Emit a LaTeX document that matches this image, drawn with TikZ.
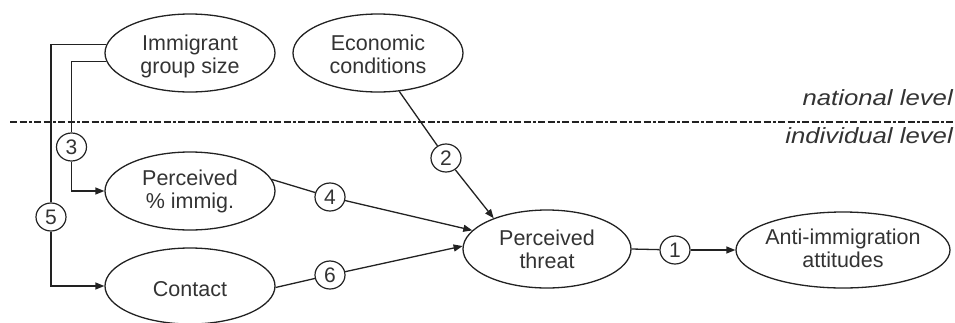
\documentclass[tikz,border=0pt]{standalone}
\usepackage{graphicx}
\usepackage{fontspec}
\setmainfont{Liberation Sans}
\usetikzlibrary{shapes.geometric,arrows.meta}
\definecolor{ink}{HTML}{333333}
\definecolor{edgec}{HTML}{222222}
\begin{document}
\begin{tikzpicture}[x=1pt,y=-1pt,
  oval/.style={ellipse,draw=edgec,line width=1.3pt,inner sep=0pt},
  lbl/.style={text=ink,align=center,font=\fontsize{21.5}{23}\selectfont,inner sep=0pt},
  num/.style={ellipse,draw=edgec,line width=1.2pt,minimum width=30pt,minimum height=28pt,inner sep=0pt,text=ink,font=\fontsize{21}{23}\selectfont},
  conn/.style={draw=edgec,line width=1.3pt},
  arr/.style={conn,-{Triangle[length=9pt,width=7pt]}},
  lvl/.style={anchor=base east,text=ink,inner sep=0pt,font=\fontsize{22}{24}\selectfont\itshape}]
\useasboundingbox (0,0) rectangle (955,322);

% level separator
\draw[edgec,line width=2.8pt,dash pattern=on 7pt off 2.5pt on 7pt off 2.5pt on 2.5pt off 2.5pt] (10,122) -- (955,122);
\node[lvl] (natl) at (953,105) {\scalebox{1.17}[1]{national level}};
\node[lvl] (indl) at (953,143) {\scalebox{1.17}[1]{individual level}};

% ellipses
\node[oval,minimum width=170pt,minimum height=78pt] (imm) at (190,53) {};
\node[lbl] (immT) at (190,56) {Immigrant\\group size};
\node[oval,minimum width=170pt,minimum height=78pt] (econ) at (378,53) {};
\node[lbl] (econT) at (378,54) {Economic\\conditions};
\node[oval,minimum width=170pt,minimum height=78pt] (perc) at (190,191) {};
\node[lbl] (percT) at (190,191) {Perceived\\\% immig.};
\node[oval,minimum width=170pt,minimum height=76pt] (contact) at (190,286) {};
\node[lbl] (contactT) at (190,289) {Contact};
\node[oval,minimum width=168pt,minimum height=78pt] (threat) at (547,249) {};
\node[lbl] (threatT) at (547,249) {Perceived\\threat};
\node[oval,minimum width=214pt,minimum height=76pt] (anti) at (843,250) {};
\node[lbl] (antiT) at (843,248) {Anti-immigration\\attitudes};

% numbered circles
\node[num] (n1) at (675,250) {1};
\node[num] (n2) at (446,158) {2};
\node[num] (n3) at (71.5,147) {3};
\node[num] (n4) at (330,197) {4};
\node[num] (n5) at (51,217) {5};
\node[num] (n6) at (330,275) {6};

% connectors
\draw[conn] (imm.174) -| (n5);
\draw[arr] (n5) |- (contact);
\draw[conn] (imm.186) -| (n3);
\draw[arr] (n3) |- (perc);
\draw[conn] (econ.-61) -- (n2);
\draw[arr] (n2) -- (threat.150);
\draw[conn] (perc.8) -- (n4);
\draw[arr] (n4) -- (threat.166);
\draw[conn] (contact.-1) -- (n6);
\draw[arr] (n6) -- (threat.178);
\draw[conn] (threat.east) -- (n1);
\draw[arr] (n1) -- (anti);
\end{tikzpicture}
\end{document}
